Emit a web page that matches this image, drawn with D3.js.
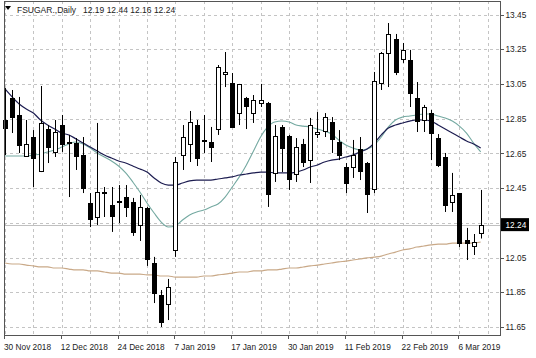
<!DOCTYPE html>
<html><head><meta charset="utf-8">
<script src="https://cdn.jsdelivr.net/npm/d3@7"></script>
<style>html,body{margin:0;padding:0;background:#fff;}svg{display:block;}</style>
</head><body>
<script>
const opens  = [12.843,12.970,12.872,12.636,12.745,12.549,12.791,12.659,12.814,12.716,12.711,12.641,12.365,12.284,12.422,12.353,12.370,12.399,12.370,12.238,12.336,12.019,11.834,11.783,12.094,12.641,12.705,12.814,12.728,12.716,12.791,13.108,13.056,12.883,12.970,12.883,12.941,12.941,12.538,12.803,12.751,12.532,12.705,12.612,12.762,12.780,12.831,12.716,12.572,12.572,12.676,12.595,12.445,13.056,13.229,13.310,13.195,13.189,12.970,12.843,12.883,12.739,12.630,12.370,12.422,12.152,12.117,12.19];
const highs  = [13.027,13.016,12.976,12.843,12.785,13.039,12.814,12.843,12.872,12.757,12.739,12.745,12.422,12.826,12.457,12.457,12.468,12.468,12.394,12.411,12.342,12.054,11.863,11.927,12.630,12.814,12.895,12.843,12.872,12.803,13.160,13.235,13.114,13.051,12.976,12.987,13.051,12.947,12.814,12.814,12.757,12.739,12.734,12.855,12.889,12.883,12.860,12.785,12.595,12.728,12.745,12.601,13.120,13.235,13.402,13.339,13.287,13.247,13.062,12.930,12.901,12.762,12.653,12.538,12.422,12.221,12.186,12.44];
const lows   = [12.641,12.768,12.653,12.630,12.457,12.543,12.595,12.630,12.659,12.399,12.555,12.422,12.226,12.238,12.284,12.198,12.249,12.284,12.175,12.146,12.002,11.788,11.650,11.690,12.054,12.555,12.601,12.578,12.653,12.601,12.757,13.033,12.797,12.814,12.791,12.826,12.918,12.342,12.486,12.543,12.440,12.486,12.572,12.480,12.739,12.745,12.653,12.612,12.422,12.509,12.497,12.307,12.422,13.016,13.033,13.102,13.172,12.918,12.774,12.774,12.612,12.572,12.313,12.313,12.111,12.036,12.065,12.16];
const closes = [12.797,12.860,12.699,12.705,12.624,12.826,12.687,12.774,12.705,12.710,12.636,12.451,12.272,12.428,12.427,12.290,12.376,12.342,12.198,12.342,12.042,11.846,11.679,11.881,12.601,12.745,12.831,12.624,12.725,12.687,13.148,13.120,12.803,13.051,12.924,12.958,12.958,12.417,12.751,12.682,12.503,12.687,12.601,12.814,12.774,12.860,12.734,12.641,12.480,12.641,12.549,12.417,13.068,13.229,13.339,13.120,13.247,12.999,12.837,12.918,12.768,12.584,12.353,12.411,12.134,12.134,12.140,12.24];

const maNavy = [13.022,12.976,12.935,12.906,12.883,12.843,12.814,12.791,12.768,12.757,12.734,12.710,12.687,12.664,12.641,12.624,12.607,12.595,12.578,12.561,12.543,12.509,12.480,12.468,12.468,12.480,12.492,12.497,12.497,12.497,12.503,12.509,12.515,12.526,12.532,12.538,12.543,12.543,12.538,12.538,12.538,12.543,12.555,12.572,12.584,12.601,12.612,12.618,12.630,12.641,12.659,12.676,12.710,12.757,12.797,12.814,12.826,12.837,12.843,12.843,12.837,12.814,12.791,12.768,12.745,12.722,12.705,12.682];
const maTeal = [12.636,12.636,12.636,12.636,12.641,12.647,12.659,12.670,12.687,12.705,12.716,12.705,12.682,12.653,12.630,12.607,12.578,12.538,12.486,12.428,12.365,12.307,12.255,12.226,12.232,12.267,12.296,12.313,12.324,12.342,12.359,12.399,12.457,12.515,12.584,12.664,12.745,12.803,12.832,12.837,12.832,12.814,12.808,12.803,12.791,12.780,12.762,12.728,12.699,12.682,12.670,12.676,12.699,12.745,12.803,12.843,12.860,12.866,12.872,12.878,12.878,12.866,12.855,12.837,12.808,12.768,12.710,12.659];
const maTan  = [12.019,12.013,12.013,12.007,12.002,11.996,11.996,11.990,11.990,11.984,11.979,11.979,11.973,11.973,11.967,11.961,11.961,11.955,11.955,11.955,11.950,11.950,11.944,11.944,11.938,11.938,11.938,11.938,11.944,11.944,11.950,11.955,11.961,11.967,11.967,11.973,11.973,11.979,11.979,11.984,11.990,11.990,11.996,12.002,12.007,12.013,12.019,12.025,12.030,12.036,12.042,12.048,12.053,12.059,12.071,12.082,12.094,12.100,12.111,12.117,12.123,12.128,12.128,12.134,12.134,12.134,12.134,12.140];

const yTicks = [13.45,13.25,13.05,12.85,12.65,12.45,12.25,12.05,11.85,11.65];
const xLabelIdx = [0,8,16,24,32,40,48,56,64];
const xLabels = ["30 Nov 2018","12 Dec 2018","24 Dec 2018","7 Jan 2019","17 Jan 2019","30 Jan 2019","11 Feb 2019","22 Feb 2019","6 Mar 2019"];
const symbol = "FSUGAR.,Daily";
const ohlcText = "12.19 12.44 12.16 12.24";
const lastPrice = 12.24;

const W = 536, H = 358;
const L = 4, R = 500, T = 1, B = 335;
const FONT = "'Liberation Sans', Arial, sans-serif";
const FS = "8.3px";

const svg = d3.select("body").append("svg").attr("width", W).attr("height", H);
const x = d3.scaleLinear().domain([0, 67]).range([5, 480.7]);
const y = d3.scaleLinear().domain([11.65, 13.45]).range([327, 14.7]);
const px = v => Math.round(v) + 0.5;

const g = svg.append("g");
// grid
const gridIdx = d3.range(0, 69, 4);
g.selectAll(".vg").data(gridIdx).join("line")
  .attr("x1", d => px(x(d))).attr("x2", d => px(x(d)))
  .attr("y1", T).attr("y2", B)
  .attr("stroke", "#c4c4c4").attr("stroke-dasharray", "3,3").attr("stroke-width", 1);
g.selectAll(".hg").data(yTicks).join("line")
  .attr("x1", L).attr("x2", R)
  .attr("y1", d => px(y(d))).attr("y2", d => px(y(d)))
  .attr("stroke", "#c4c4c4").attr("stroke-dasharray", "3,3").attr("stroke-width", 1);

// bid line
g.append("line").attr("x1", L).attr("x2", R)
  .attr("y1", px(y(lastPrice))).attr("y2", px(y(lastPrice)))
  .attr("stroke", "#c0c0c0").attr("stroke-width", 1);

// moving averages
const idx = d3.range(opens.length);
const lineGen = arr => d3.line().x(i => x(i)).y(i => y(arr[i])).curve(d3.curveMonotoneX)(idx);
g.append("path").attr("d", lineGen(maTan)).attr("fill", "none").attr("stroke", "#c9a988").attr("stroke-width", 1.2);
g.append("path").attr("d", lineGen(maTeal)).attr("fill", "none").attr("stroke", "#74a9a1").attr("stroke-width", 1.1);
g.append("path").attr("d", lineGen(maNavy)).attr("fill", "none").attr("stroke", "#1c1c50").attr("stroke-width", 1.2);

// candles
const cg = g.append("g");
idx.forEach(i => {
  const cx = px(x(i));
  cg.append("line").attr("x1", cx).attr("x2", cx)
    .attr("y1", y(highs[i])).attr("y2", y(lows[i]))
    .attr("stroke", "#000").attr("stroke-width", 1);
  const top = Math.round(y(Math.max(opens[i], closes[i])));
  const bot = Math.round(y(Math.min(opens[i], closes[i])));
  const bull = closes[i] >= opens[i];
  cg.append("rect").attr("x", cx - 2).attr("width", 4)
    .attr("y", top + 0.5).attr("height", Math.max(1, bot - top))
    .attr("fill", bull ? "#fff" : "#000").attr("stroke", "#000").attr("stroke-width", 1);
});

// frame
svg.append("rect").attr("x", L + 0.5).attr("y", T + 0.5).attr("width", R - L).attr("height", B - T)
  .attr("fill", "none").attr("stroke", "#555").attr("stroke-width", 1);

// y axis labels
const yl = yTicks.filter(d => Math.abs(d - lastPrice) > 0.03);
svg.selectAll(".yt").data(yl).join("line")
  .attr("x1", R + 1).attr("x2", R + 4).attr("y1", d => px(y(d))).attr("y2", d => px(y(d)))
  .attr("stroke", "#555");
svg.selectAll(".yl").data(yl).join("text")
  .attr("x", 505.5).attr("y", d => y(d) + 3)
  .attr("font-family", FONT).attr("font-size", FS).attr("fill", "#222")
  .text(d => d.toFixed(2));

// last price box
svg.append("rect").attr("x", 501).attr("y", y(lastPrice) - 6.5).attr("width", 28).attr("height", 13).attr("fill", "#000");
svg.append("text").attr("x", 505.5).attr("y", y(lastPrice) + 3)
  .attr("font-family", FONT).attr("font-size", FS).attr("fill", "#fff").text(lastPrice.toFixed(2));

// x axis labels
svg.selectAll(".xt").data(xLabelIdx).join("line")
  .attr("x1", d => px(x(d)) - 1).attr("x2", d => px(x(d)) - 1).attr("y1", B).attr("y2", B + 4)
  .attr("stroke", "#555");
svg.selectAll(".xl").data(xLabelIdx).join("text")
  .attr("x", d => x(d) - 1).attr("y", 350)
  .attr("font-family", FONT).attr("font-size", FS).attr("fill", "#222")
  .text((d, i) => xLabels[i]);

// title
svg.append("path").attr("d", "M5,6 L11,6 L8,10 Z").attr("fill", "#000");
svg.append("text").attr("x", 17).attr("y", 13).attr("font-family", FONT).attr("font-size", "8.5px").attr("fill", "#222").text(symbol);
svg.append("text").attr("x", 83).attr("y", 13).attr("font-family", FONT).attr("font-size", "8.5px").attr("fill", "#222").text(ohlcText);
</script>
</body></html>
